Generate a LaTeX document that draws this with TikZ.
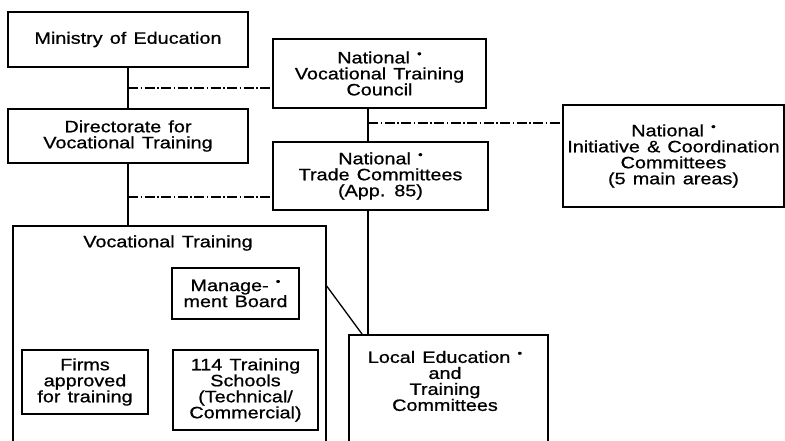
\documentclass[tikz,border=0pt]{standalone}
\usepackage{fontspec}
\setmainfont[FakeStretch=1.2,WordSpace=1.3,FakeBold=0.8]{Liberation Sans}
\usetikzlibrary{calc}
\newcommand\dotmark{\raisebox{0.36em}{\fontsize{11}{11}\selectfont •}}
\begin{document}
\begin{tikzpicture}[x=1pt,y=-1pt,
  box/.style={draw,line width=1.7pt,inner sep=0pt,align=center,font=\fontsize{16.5}{16}\selectfont},
  lbl/.style={inner sep=0pt,align=center,font=\fontsize{16.5}{16}\selectfont},
  link/.style={line width=1.7pt},
  dd/.style={line width=1.1pt,dash pattern=on 10pt off 2.5pt on 1.5pt off 2.5pt}]
\clip (0,0) rectangle (785,440);
\fill[white] (0,0) rectangle (785,440);
% nodes
\node[box,minimum width=240pt,minimum height=55pt] (min) at (128,39.5) {Ministry of Education};
\node[box,minimum width=213pt,minimum height=69pt] (nvtc) at (379.5,73.5) {National \dotmark\\Vocational Training\\Council};
\node[box,minimum width=240pt,minimum height=54pt] (dir) at (128,136) {Directorate for\\Vocational Training};
\node[box,minimum width=215pt,minimum height=68pt] (ntc) at (380.5,176) {National \dotmark\\Trade Committees\\(App. 85)};
\node[box,minimum width=221pt,minimum height=102pt] (nicc) at (673.5,156) {National \dotmark\\Initiative \& Coordination\\Committees\\(5 main areas)};
\node[box,minimum width=313pt,minimum height=240pt,anchor=north west] (vt) at (12,225) {};
\node[lbl] (vttitle) at (168,243) {Vocational Training};
\node[box,minimum width=127pt,minimum height=51pt] (mb) at (235.5,293.5) {Manage- \dotmark\\ment Board};
\node[box,minimum width=126pt,minimum height=64pt] (firms) at (85,382) {Firms\\approved\\for training};
\node[box,minimum width=145pt,minimum height=80pt] (schools) at (245.5,390) {114 Training\\Schools\\(Technical/\\Commercial)};
\node[box,minimum width=199pt,minimum height=130pt,anchor=north west] (leb) at (348,334) {};
\node[lbl] (lebtext) at (445,381) {Local Education \dotmark\\and\\Training\\Committees};
% helper coordinates
\coordinate (x1) at (368,0);
\coordinate (d1) at (128,88);
\coordinate (d2) at (128,197);
\coordinate (d3) at (368,123);
\coordinate (g1) at (0,286);
\coordinate (g2) at (362,0);
% connectors
\draw[link] (min.south) -- (dir.north);
\draw[dd] (d1) -- (d1 -| nvtc.west);
\draw[link] (dir.south) -- (dir.south |- vt.north);
\draw[dd] (d2) -- (d2 -| ntc.west);
\draw[link] (nvtc.south -| x1) -- (ntc.north -| x1);
\draw[dd] (d3) -- (d3 -| nicc.west);
\draw[link] (ntc.south -| x1) -- (leb.north -| x1);
\draw[line width=1.3pt] (vt.east |- g1) -- (leb.north -| g2);
\end{tikzpicture}
\end{document}
